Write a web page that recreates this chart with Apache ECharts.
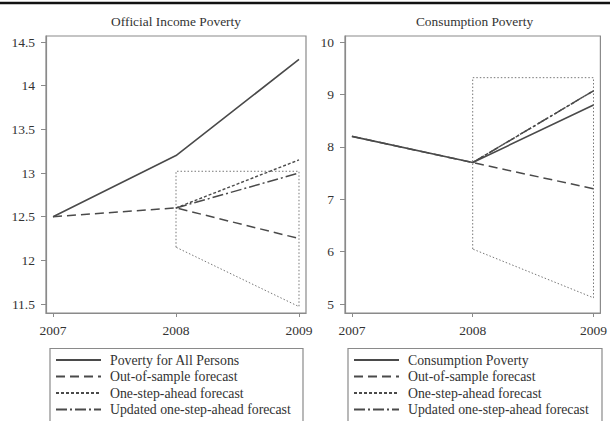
<!DOCTYPE html>
<html>
<head>
<meta charset="utf-8">
<style>
  html, body { margin: 0; padding: 0; background: #fff; }
  #chart { width: 610px; height: 421px; }
</style>
<script src="https://cdn.jsdelivr.net/npm/echarts@6/dist/echarts.min.js"></script>
</head>
<body>
<div id="chart"></div>
<script>
// Years on the horizontal axis
const years = [2007, 2008, 2009];

// Official income poverty rate (%)
const incomeActual      = [12.5, 13.2, 14.3];
const incomeOutOfSample = [12.5, 12.6, 12.25];
const incomeOneStep     = [null, 12.6, 13.15];
const incomeUpdated     = [null, 12.6, 13.0];
const incomeBandUpper   = [null, 13.02, 13.02];
const incomeBandLower   = [null, 12.15, 11.47];
const incomeTicks       = [11.5, 12, 12.5, 13, 13.5, 14, 14.5];

// Consumption poverty rate (%)
const consActual      = [8.2, 7.7, 8.8];
const consOutOfSample = [8.2, 7.7, 7.2];
const consOneStep     = [null, 7.7, 9.07];
const consUpdated     = [null, 7.7, 9.07];
const consBandUpper   = [null, 9.32, 9.32];
const consBandLower   = [null, 6.05, 5.12];
const consTicks       = [5, 6, 7, 8, 9, 10];

const incomeNames = ['Poverty for All Persons', 'Out-of-sample forecast',
                     'One-step-ahead forecast', 'Updated one-step-ahead forecast'];
const consNames   = ['Consumption Poverty', 'Out-of-sample forecast',
                     'One-step-ahead forecast', 'Updated one-step-ahead forecast'];

const SERIF = '"Liberation Serif", "DejaVu Serif", serif';
const INK = '#4a4a4a';
const TEXT = '#333';
const FRAME = '#8a8a8a';

// pair years with values, skipping missing entries
function pairs(vals) {
  const out = [];
  vals.forEach((v, i) => { if (v != null) out.push([years[i], v]); });
  return out;
}

// closed outline of the forecast interval
function bandOutline(upper, lower) {
  const idx = [];
  years.forEach((y, i) => { if (upper[i] != null) idx.push(i); });
  const pts = [];
  pts.push([years[idx[0]], lower[idx[0]]]);
  idx.forEach(i => pts.push([years[i], upper[i]]));
  for (let k = idx.length - 1; k >= 0; k--) pts.push([years[idx[k]], lower[idx[k]]]);
  return pts;
}

const styles = {
  actual:  { type: 'solid', width: 1.6 },
  oos:     { type: [9, 5], width: 1.5 },
  onestep: { type: [3, 2], width: 1.4 },
  updated: { type: [11, 3, 2, 3], width: 1.5 },
};

function lineSeries(name, vals, style, axisIdx) {
  return {
    type: 'line', name: name, data: pairs(vals),
    xAxisIndex: axisIdx, yAxisIndex: axisIdx,
    symbol: 'none', silent: true, animation: false, z: 3,
    lineStyle: { color: INK, width: style.width, type: style.type },
    itemStyle: { color: INK }
  };
}

function bandSeries(upper, lower, axisIdx) {
  return {
    type: 'line', name: 'interval', data: bandOutline(upper, lower),
    xAxisIndex: axisIdx, yAxisIndex: axisIdx,
    symbol: 'none', silent: true, animation: false, z: 2,
    lineStyle: { color: '#777', width: 1, type: [1.5, 2] }
  };
}

function xAxis(gridIdx) {
  return {
    type: 'value', gridIndex: gridIdx, min: 2006.943, max: 2009.057,
    axisLine: { show: true, lineStyle: { color: FRAME, width: 1.2 } },
    axisTick: { show: true, length: 4, customValues: years, lineStyle: { color: FRAME } },
    axisLabel: { customValues: years, margin: 10, color: TEXT,
                 fontFamily: SERIF, fontSize: 13.5, formatter: v => String(v) },
    splitLine: { show: false }
  };
}

function yAxis(gridIdx, min, max, ticks) {
  return {
    type: 'value', gridIndex: gridIdx, min: min, max: max,
    axisLine: { show: true, lineStyle: { color: FRAME, width: 1.2 } },
    axisTick: { show: true, length: 5, customValues: ticks, lineStyle: { color: FRAME } },
    axisLabel: { customValues: ticks, margin: 11, color: TEXT,
                 fontFamily: SERIF, fontSize: 13.5, formatter: v => String(v) },
    splitLine: { show: false }
  };
}

// legend keys show only the line sample, no marker; one column of four rows
function legend(names, left) {
  return {
    data: names, orient: 'vertical', left: left, top: 353, height: 90, padding: 0,
    itemWidth: 45, itemHeight: 12, itemGap: 2.5, selectedMode: false,
    itemStyle: { opacity: 0 },
    textStyle: { fontFamily: SERIF, fontSize: 13.8, color: TEXT, lineHeight: 13,
                 padding: [0, 0, 0, 4] }
  };
}

const chart = echarts.init(document.getElementById('chart'), null, { renderer: 'svg' });

chart.setOption({
  animation: false,
  backgroundColor: '#fff',
  grid: [
    { left: 46, top: 36, width: 260, height: 277, show: true,
      borderColor: FRAME, borderWidth: 1.2, backgroundColor: 'transparent' },
    { left: 345, top: 36, width: 259, height: 277, show: true,
      borderColor: FRAME, borderWidth: 1.2, backgroundColor: 'transparent' }
  ],
  xAxis: [xAxis(0), xAxis(1)],
  yAxis: [
    yAxis(0, 11.397, 14.569, incomeTicks),
    yAxis(1, 4.83, 10.115, consTicks)
  ],
  legend: [legend(incomeNames, 55), legend(consNames, 353)],
  graphic: [
    { type: 'line', shape: { x1: 0, y1: 3, x2: 610, y2: 3 },
      style: { stroke: '#111', lineWidth: 2.5 }, silent: true },
    { type: 'text', x: 176, y: 21,
      style: { text: 'Official Income Poverty', fill: TEXT, font: '13.4px ' + SERIF,
               textAlign: 'center', textVerticalAlign: 'middle' }, silent: true },
    { type: 'text', x: 474.5, y: 21,
      style: { text: 'Consumption Poverty', fill: TEXT, font: '13.4px ' + SERIF,
               textAlign: 'center', textVerticalAlign: 'middle' }, silent: true },
    { type: 'rect', shape: { x: 50, y: 348.5, width: 253, height: 90 },
      style: { fill: 'none', stroke: FRAME, lineWidth: 1.2 }, silent: true },
    { type: 'rect', shape: { x: 348, y: 348.5, width: 254, height: 90 },
      style: { fill: 'none', stroke: FRAME, lineWidth: 1.2 }, silent: true }
  ],
  series: [
    bandSeries(incomeBandUpper, incomeBandLower, 0),
    lineSeries(incomeNames[0], incomeActual, styles.actual, 0),
    lineSeries(incomeNames[1], incomeOutOfSample, styles.oos, 0),
    lineSeries(incomeNames[2], incomeOneStep, styles.onestep, 0),
    lineSeries(incomeNames[3], incomeUpdated, styles.updated, 0),

    bandSeries(consBandUpper, consBandLower, 1),
    lineSeries(consNames[0], consActual, styles.actual, 1),
    lineSeries(consNames[1], consOutOfSample, styles.oos, 1),
    lineSeries(consNames[2], consOneStep, styles.onestep, 1),
    lineSeries(consNames[3], consUpdated, styles.updated, 1)
  ]
});
</script>
</body>
</html>
